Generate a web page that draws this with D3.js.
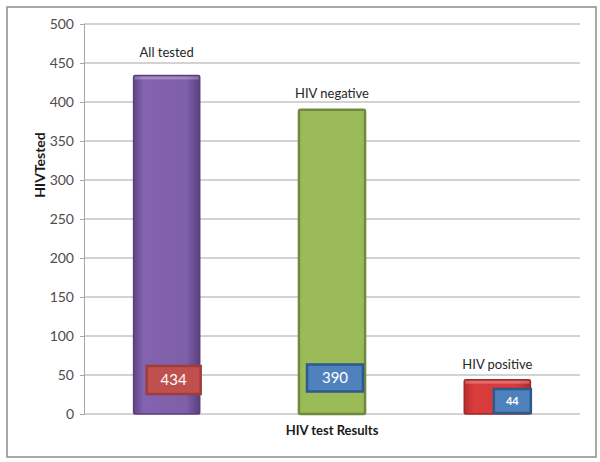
<!DOCTYPE html>
<html>
<head>
<meta charset="utf-8">
<script src="https://cdn.jsdelivr.net/npm/d3@7"></script>
<style>
  body { margin: 0; background: #fff; }
  text { font-family: Lato, "Open Sans", sans-serif; }
</style>
</head>
<body>
<div id="chart"></div>
<script>
// data
const categories = ["All tested", "HIV negative", "HIV positive"];
const values = [434, 390, 44];
const yTicks = [0, 50, 100, 150, 200, 250, 300, 350, 400, 450, 500];

const width = 600, height = 462;
const margin = {top: 24, right: 20, bottom: 48, left: 84};

const svg = d3.select("#chart").append("svg")
    .attr("width", width)
    .attr("height", height);

// outer frame
svg.append("rect")
    .attr("x", 7).attr("y", 7)
    .attr("width", 589).attr("height", 450)
    .attr("fill", "#fff")
    .attr("stroke", "#8c8c8c")
    .attr("stroke-width", 1.5);

const x = d3.scaleBand()
    .domain(categories)
    .range([margin.left, width - margin.right])
    .paddingInner(0.6)
    .paddingOuter(0.3);

const y = d3.scaleLinear()
    .domain([0, 500])
    .range([height - margin.bottom, margin.top]);

// gradients
const defs = svg.append("defs");
const grads = [
  {id: "gPurple", stops: ["#5f4585", "#8463b0", "#7e5fa8", "#5a4080"]},
  {id: "gGreen", stops: ["#9bbb59", "#9bbb59", "#9bbb59", "#9bbb59"]},
  {id: "gRed", stops: ["#b82e2e", "#d93c3c", "#d63a3a", "#b02a2a"]}
];
grads.forEach(g => {
  const lg = defs.append("linearGradient").attr("id", g.id)
      .attr("x1", "0%").attr("x2", "100%").attr("y1", "0%").attr("y2", "0%");
  [0, 0.15, 0.8, 1].forEach((o, i) => {
    lg.append("stop").attr("offset", o).attr("stop-color", g.stops[i]);
  });
});
const barFill = ["url(#gPurple)", "url(#gGreen)", "url(#gRed)"];
const barStroke = ["#5a4080", "#71893f", "#a02828"];
const barStrokeW = [1.5, 2.5, 1.5];

// gridlines + y axis
const yAxis = d3.axisLeft(y)
    .tickValues(yTicks)
    .tickSize(4)
    .tickPadding(6);

svg.append("g")
    .attr("class", "grid")
    .selectAll("line")
    .data(yTicks)
    .enter().append("line")
    .attr("x1", margin.left)
    .attr("x2", width - margin.right)
    .attr("y1", d => y(d))
    .attr("y2", d => y(d))
    .attr("stroke", "#a6a6a6")
    .attr("stroke-width", 1);

const gy = svg.append("g")
    .attr("transform", `translate(${margin.left},0)`)
    .call(yAxis);
gy.select(".domain").attr("stroke", "#a6a6a6");
gy.selectAll(".tick line").attr("stroke", "#a6a6a6");
gy.selectAll(".tick text")
    .attr("fill", "#4d4d4d")
    .style("font-size", "14px");

// bars
const bars = svg.selectAll(".bar")
    .data(values)
    .enter().append("g")
    .attr("class", "bar");

bars.append("rect")
    .attr("x", (d, i) => x(categories[i]))
    .attr("y", d => y(d))
    .attr("width", x.bandwidth())
    .attr("height", d => y(0) - y(d))
    .attr("rx", 1.5)
    .attr("fill", (d, i) => barFill[i])
    .attr("stroke", (d, i) => barStroke[i])
    .attr("stroke-width", (d, i) => barStrokeW[i]);

// top highlight on bars
bars.filter((d, i) => i !== 1).append("rect")
    .attr("x", (d, i) => x(categories[i === 0 ? 0 : 2]) + 1)
    .attr("y", d => y(d) + 1)
    .attr("width", x.bandwidth() - 2)
    .attr("height", 3)
    .attr("fill", "#fff")
    .attr("opacity", 0.25);

// category labels above bars
bars.append("text")
    .attr("x", (d, i) => x(categories[i]) + x.bandwidth() / 2)
    .attr("y", (d, i) => y(d) - [23, 16, 15][i])
    .attr("dy", "0.35em")
    .attr("text-anchor", "middle")
    .attr("fill", "#262626")
    .style("font-size", "13px")
    .text((d, i) => categories[i]);

// value boxes
const boxes = [
  {w: 54, h: 28, dx: 7, cy: 380, fill: "#c0504d", stroke: "#a03c3a", fs: 15},
  {w: 56, h: 27, dx: 3, cy: 378, fill: "#4f81bd", stroke: "#2c5a8e", fs: 15},
  {w: 37, h: 24, dx: 15, cy: 401, fill: "#4f81bd", stroke: "#2c5a8e", fs: 11}
];
bars.append("rect")
    .attr("x", (d, i) => x(categories[i]) + x.bandwidth() / 2 + boxes[i].dx - boxes[i].w / 2)
    .attr("y", (d, i) => boxes[i].cy - boxes[i].h / 2)
    .attr("width", (d, i) => boxes[i].w)
    .attr("height", (d, i) => boxes[i].h)
    .attr("fill", (d, i) => boxes[i].fill)
    .attr("stroke", (d, i) => boxes[i].stroke)
    .attr("stroke-width", 2.5);

bars.append("text")
    .attr("x", (d, i) => x(categories[i]) + x.bandwidth() / 2 + boxes[i].dx)
    .attr("y", (d, i) => boxes[i].cy)
    .attr("dy", "0.36em")
    .attr("text-anchor", "middle")
    .attr("fill", "#fff")
    .style("font-size", (d, i) => boxes[i].fs + "px")
    .style("font-weight", (d, i) => i === 2 ? "bold" : "normal")
    .text(d => d);

// axis titles
svg.append("text")
    .attr("x", (margin.left + width - margin.right) / 2)
    .attr("y", 430)
    .attr("dy", "0.35em")
    .attr("text-anchor", "middle")
    .attr("fill", "#1a1a1a")
    .style("font-size", "13px")
    .style("font-weight", "bold")
    .text("HIV test Results");

svg.append("text")
    .attr("transform", "translate(40,165) rotate(-90)")
    .attr("dy", "0.35em")
    .attr("text-anchor", "middle")
    .attr("fill", "#1a1a1a")
    .style("font-size", "14px")
    .style("font-weight", "bold")
    .text("HIVTested");
</script>
</body>
</html>
